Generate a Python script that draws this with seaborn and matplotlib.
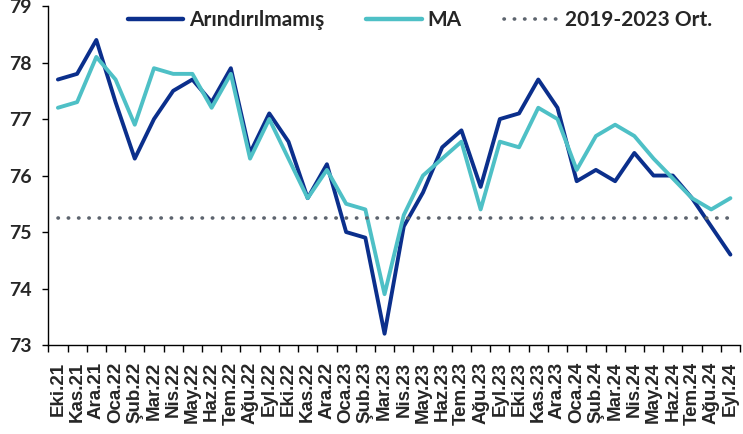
import matplotlib
matplotlib.use("Agg")
import matplotlib.pyplot as plt
import seaborn as sns
import pandas as pd
import numpy as np
from matplotlib.ticker import FixedLocator
from matplotlib.lines import Line2D

months = ["Eki.21", "Kas.21", "Ara.21", "Oca.22", "Şub.22", "Mar.22", "Nis.22", "May.22",
          "Haz.22", "Tem.22", "Ağu.22", "Eyl.22", "Eki.22", "Kas.22", "Ara.22", "Oca.23",
          "Şub.23", "Mar.23", "Nis.23", "May.23", "Haz.23", "Tem.23", "Ağu.23", "Eyl.23",
          "Eki.23", "Kas.23", "Ara.23", "Oca.24", "Şub.24", "Mar.24", "Nis.24", "May.24",
          "Haz.24", "Tem.24", "Ağu.24", "Eyl.24"]

arindirilmamis = [77.7, 77.8, 78.4, 77.3, 76.3, 77.0, 77.5, 77.7, 77.3, 77.9, 76.4, 77.1,
                  76.6, 75.6, 76.2, 75.0, 74.9, 73.2, 75.1, 75.7, 76.5, 76.8, 75.8, 77.0,
                  77.1, 77.7, 77.2, 75.9, 76.1, 75.9, 76.4, 76.0, 76.0, 75.6, 75.1, 74.6]

ma = [77.2, 77.3, 78.1, 77.7, 76.9, 77.9, 77.8, 77.8, 77.2, 77.8, 76.3, 77.0,
      76.3, 75.6, 76.1, 75.5, 75.4, 73.9, 75.3, 76.0, 76.3, 76.6, 75.4, 76.6,
      76.5, 77.2, 77.0, 76.1, 76.7, 76.9, 76.7, 76.3, 75.95, 75.6, 75.4, 75.6]

avg_2019_2023 = 75.25

series_names = ["Arındırılmamış", "MA"]
colors = {"Arındırılmamış": "#0B2F8C", "MA": "#4EC0C6"}
avg_label = "2019-2023 Ort."
avg_color = "#5D646E"

sns.set_theme(style="white")
plt.rcParams['font.family'] = ['Lato', 'DejaVu Sans']

df = pd.DataFrame({
    "x": list(range(len(months))) * 2,
    "value": arindirilmamis + ma,
    "series": [series_names[0]] * len(months) + [series_names[1]] * len(months),
})

fig = plt.figure(figsize=(7.43, 4.34), dpi=100)
ax = fig.add_axes([0.065, 0.205, 0.931, 0.781])

sns.lineplot(data=df, x="x", y="value", hue="series", palette=colors,
             hue_order=series_names, linewidth=2.8, ax=ax, legend=False)
ax.plot(np.arange(len(months)), [avg_2019_2023] * len(months), color=avg_color,
        linestyle=(0, (0.1, 2.75)), dash_capstyle="round", linewidth=2.6)

ax.set_xlim(-0.5, len(months) - 0.5)
ax.set_ylim(73, 79)
ax.set_yticks([73, 74, 75, 76, 77, 78, 79])
ax.set_xticks(range(len(months)))
ax.set_xticklabels(months, rotation=90, fontweight="bold", fontsize=13.5,
                   family=["Liberation Sans", "DejaVu Sans"])
ax.xaxis.set_minor_locator(FixedLocator(np.arange(-0.5, len(months), 1.0)))
ax.tick_params(axis="x", which="major", length=0, pad=12)
ax.tick_params(axis="x", which="minor", length=5, width=1, color="black", direction="out", bottom=True)
ax.tick_params(axis="y", length=4, width=1, color="black", direction="out", left=True, pad=8)
for lbl in ax.get_yticklabels():
    lbl.set_fontweight("bold")
    lbl.set_fontsize(14)
ax.set_xlabel("")
ax.set_ylabel("")

for s in ["top", "right"]:
    ax.spines[s].set_visible(False)
for s in ["left", "bottom"]:
    ax.spines[s].set_color("black")
    ax.spines[s].set_linewidth(1.0)

handles = [Line2D([], [], color=colors[series_names[0]], linewidth=3.2),
           Line2D([], [], color=colors[series_names[1]], linewidth=3.2),
           Line2D([], [], color=avg_color, linestyle=(0, (0.1, 2.75)), dash_capstyle="round", linewidth=2.6)]
leg = fig.legend(handles, series_names + [avg_label], ncol=3, frameon=False,
                 loc="center left", bbox_to_anchor=(128 / 743, 1 - 20 / 434),
                 borderpad=0, borderaxespad=0, handlelength=2.65,
                 columnspacing=2.0, handletextpad=0.3,
                 prop={"weight": "bold", "size": 15})

fig.savefig("out.png", dpi=100)
